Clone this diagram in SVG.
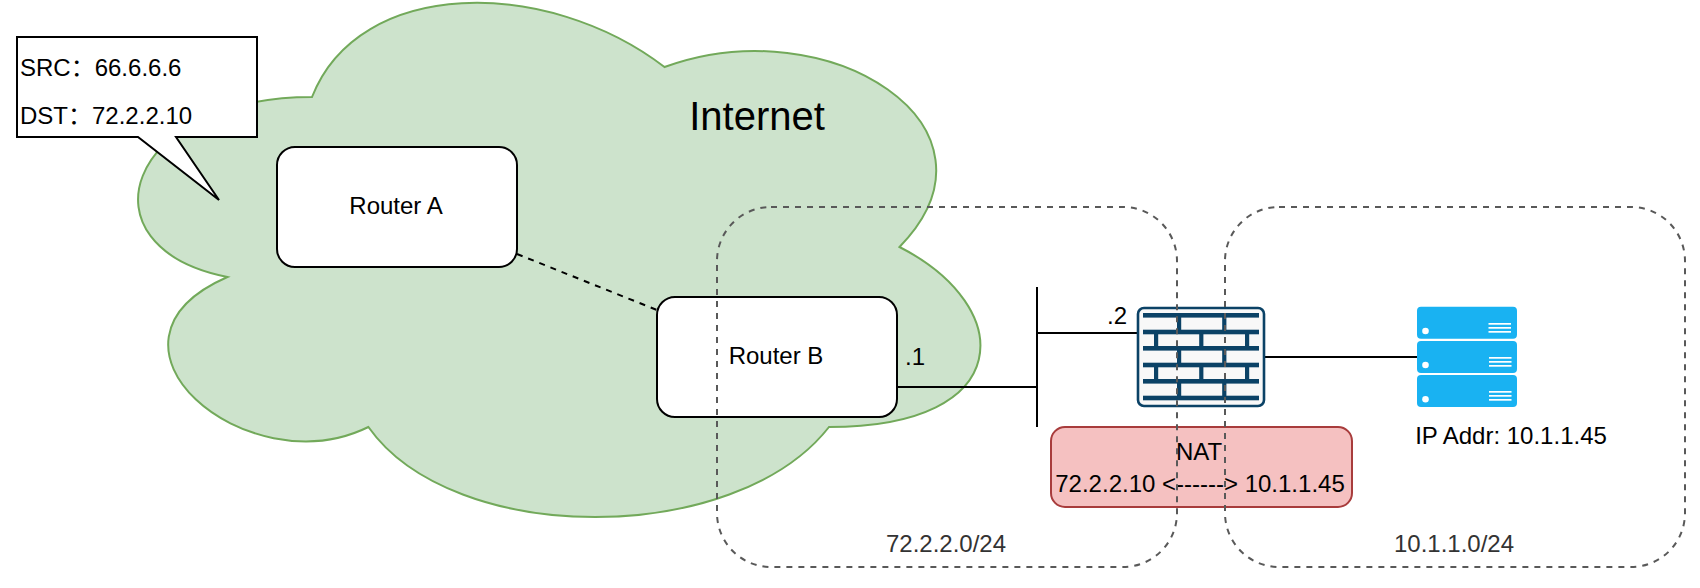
<svg xmlns="http://www.w3.org/2000/svg" width="1700" height="588" viewBox="0 0 1700 588">
<style>
text{font-family:"Liberation Sans",Arial,"Noto Sans CJK SC",sans-serif;font-size:24px;fill:#000}
.m{text-anchor:middle}
.box{fill:#fff;stroke:#000;stroke-width:2}
.line{fill:none;stroke:#000;stroke-width:2}
.dash{stroke-dasharray:6 6}
.frame{fill:none;stroke:#595959;stroke-width:2;stroke-dasharray:6 6}
.lab{fill:#333}
.fw{fill:#0b4266}
.sv{fill:#19b2f2}
.sl{fill:#fff}
</style>
<rect width="1700" height="588" fill="#fff"/>
<g id="internet-cloud">
<path d="M312,97C124,97 77,247 227.4,277C77,343 246.2,487 368.4,427C453,547 735,547 829,427C1017,427 1017,307 899.5,247C1017,127 829,7 664.5,67C547,-23 359,-23 312,97Z" fill="#cde3cc" stroke="#72a95a" stroke-width="2"/>
<text x="757" y="130" class="m" style="font-size:40px">Internet</text>
</g>
<g id="callout">
<path d="M17,37H257V137H176L219,200L138,137H17Z" class="box"/>
<text x="20" y="76">SRC：66.6.6.6</text>
<text x="20" y="124">DST：72.2.2.10</text>
</g>
<g id="router-a">
<rect x="277" y="147" width="240" height="120" rx="18" class="box"/>
<text x="396" y="214" class="m">Router A</text>
</g>
<g id="router-b">
<rect x="657" y="297" width="240" height="120" rx="18" class="box"/>
<text x="776" y="364" class="m">Router B</text>
</g>
<g id="connectors">
<path d="M517,254L657,310" class="line dash"/>
<path d="M897,387H1037" class="line"/>
<path d="M1037,287V427" class="line"/>
<path d="M1037,333H1137" class="line"/>
<path d="M1265,357H1417" class="line"/>
</g>
<text x="905" y="365">.1</text>
<text x="1107" y="324">.2</text>
<g id="firewall">
<rect x="1138" y="308" width="126" height="98" rx="6" fill="#f8f8f8" stroke="#0b4266" stroke-width="2.6"/>
<g class="fw">
<rect x="1143" y="313" width="116" height="4.6"/>
<rect x="1143" y="329.7" width="116" height="4.6"/>
<rect x="1143" y="346" width="116" height="4.6"/>
<rect x="1143" y="362.7" width="116" height="4.6"/>
<rect x="1143" y="379" width="116" height="4.6"/>
<rect x="1143" y="395.7" width="116" height="4.6"/>
<rect x="1177" y="315" width="4.2" height="16"/>
<rect x="1222.2" y="315" width="4.2" height="16"/>
<rect x="1154" y="332" width="4.2" height="16"/>
<rect x="1199.2" y="332" width="4.2" height="16"/>
<rect x="1245" y="332" width="4.2" height="16"/>
<rect x="1177" y="348" width="4.2" height="16"/>
<rect x="1222.2" y="348" width="4.2" height="16"/>
<rect x="1154" y="365" width="4.2" height="16"/>
<rect x="1199.2" y="365" width="4.2" height="16"/>
<rect x="1245" y="365" width="4.2" height="16"/>
<rect x="1177" y="381" width="4.2" height="16"/>
<rect x="1222.2" y="381" width="4.2" height="16"/>
</g>
</g>
<g id="server">
<rect x="1417" y="306.7" width="100" height="32" rx="4" class="sv"/>
<rect x="1417" y="341" width="100" height="32" rx="4" class="sv"/>
<rect x="1417" y="375" width="100" height="32" rx="4" class="sv"/>
<g class="sl">
<circle cx="1425.5" cy="331" r="3.3"/><circle cx="1425.5" cy="365" r="3.3"/><circle cx="1425.5" cy="399.3" r="3.3"/>
<rect x="1488.5" y="323" width="22.5" height="1.7"/><rect x="1488.5" y="327" width="22.5" height="1.7"/><rect x="1488.5" y="331" width="22.5" height="1.7"/>
<rect x="1489" y="357" width="22.5" height="1.7"/><rect x="1489" y="361" width="22.5" height="1.7"/><rect x="1489" y="365" width="22.5" height="1.7"/>
<rect x="1489" y="391" width="22.5" height="1.7"/><rect x="1489" y="395" width="22.5" height="1.7"/><rect x="1489" y="399" width="22.5" height="1.7"/>
</g>
<text x="1511" y="444" class="m">IP Addr: 10.1.1.45</text>
</g>
<g id="nat">
<rect x="1051" y="427" width="301" height="80" rx="14" fill="#f5c1c1" stroke="#a83c3c" stroke-width="2"/>
<text x="1199" y="460" class="m">NAT</text>
<text x="1200" y="492" class="m">72.2.2.10 &lt;------&gt; 10.1.1.45</text>
</g>
<g id="subnet-72">
<rect x="717" y="207" width="460" height="360" rx="54" class="frame"/>
<text x="946" y="552" class="m lab">72.2.2.0/24</text>
</g>
<g id="subnet-10">
<rect x="1225" y="207" width="460" height="360" rx="54" class="frame"/>
<text x="1454" y="552" class="m lab">10.1.1.0/24</text>
</g>
</svg>
